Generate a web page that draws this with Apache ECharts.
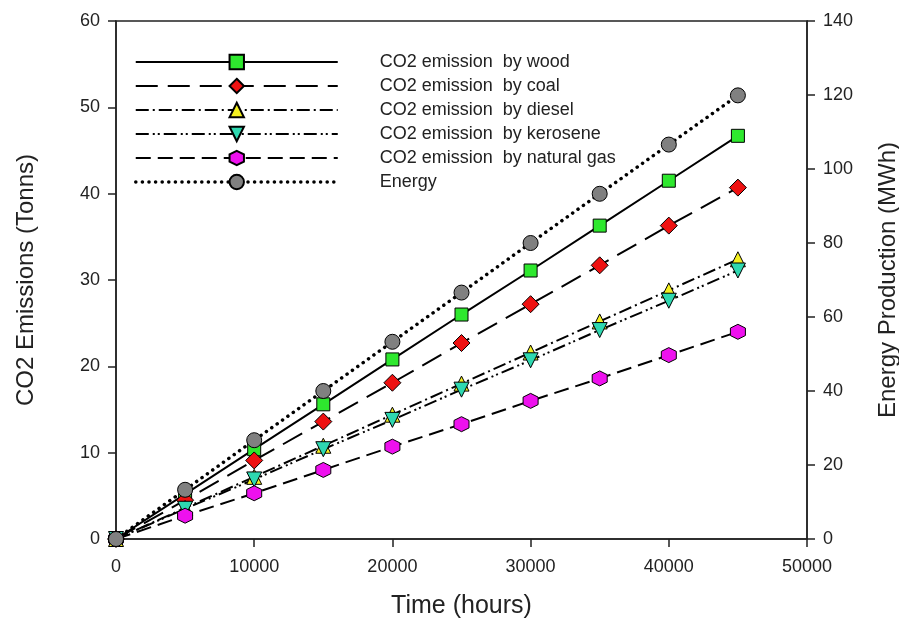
<!DOCTYPE html>
<html>
<head>
<meta charset="utf-8">
<script src="https://cdn.jsdelivr.net/npm/echarts@6/dist/echarts.min.js"></script>
<style>html,body{margin:0;padding:0;background:#fff}#c{width:899px;height:621px}</style>
</head>
<body>
<div id="c"></div>
<script>
const hours = [0, 5000, 10000, 15000, 20000, 25000, 30000, 35000, 40000, 45000];
const wood = [0, 5.2, 10.4, 15.6, 20.8, 26.0, 31.1, 36.3, 41.5, 46.7];
const coal = [0, 4.5, 9.1, 13.6, 18.1, 22.7, 27.2, 31.7, 36.3, 40.7];
const diesel = [0, 3.6, 7.2, 10.8, 14.4, 18.0, 21.6, 25.2, 28.8, 32.4];
const kerosene = [0, 3.5, 6.9, 10.4, 13.8, 17.3, 20.7, 24.2, 27.6, 31.1];
const naturalGas = [0, 2.7, 5.3, 8.0, 10.7, 13.3, 16.0, 18.6, 21.3, 24.0];
const energy = [0, 13.3, 26.7, 40.0, 53.3, 66.6, 80.0, 93.3, 106.6, 119.9];
const seriesNames = ['CO2 emission  by wood', 'CO2 emission  by coal', 'CO2 emission  by diesel',
  'CO2 emission  by kerosene', 'CO2 emission  by natural gas', 'Energy'];

const pair = arr => hours.map((h, i) => [h, arr[i]]);
const hexagon = 'path://M0,-10 L8.66,-5 L8.66,5 L0,10 L-8.66,5 L-8.66,-5 Z';
const font = 'Liberation Sans, Arial, sans-serif';
const dotted = [0.1, 6.5];

function mk(name, arr, symbol, color, dash, extra) {
  return Object.assign({
    name: name, type: 'line', data: pair(arr), symbol: symbol, symbolSize: 14,
    showAllSymbol: true,
    lineStyle: { color: '#000', width: 2, type: dash },
    itemStyle: { color: color, borderColor: '#000', borderWidth: 1 },
    emphasis: { disabled: true }, animation: false
  }, extra || {});
}

const chart = echarts.init(document.getElementById('c'));
chart.setOption({
  backgroundColor: '#fff',
  animation: false,
  textStyle: { fontFamily: font },
  grid: { left: 116, right: 92, top: 21, bottom: 82, outerBoundsMode: 'none', containLabel: false,
    show: true, borderColor: '#222', borderWidth: 1.5, backgroundColor: 'transparent' },
  legend: {
    orient: 'vertical', left: 129, top: 48, itemWidth: 202, itemHeight: 18, itemGap: 6,
    data: seriesNames.slice(0, 5).map(n => ({ name: n })).concat([{
      name: seriesNames[5], lineStyle: { width: 3.5, type: dotted, cap: 'round', color: '#000' }
    }]),
    lineStyle: { width: 2 },
    textStyle: { fontSize: 18, color: '#222', fontFamily: font, padding: [0, 0, 0, 37] },
    selectedMode: false
  },
  xAxis: {
    type: 'value', min: 0, max: 50000, interval: 10000,
    name: 'Time (hours)', nameLocation: 'middle', nameGap: 55,
    nameTextStyle: { fontSize: 25, color: '#222' },
    axisLine: { lineStyle: { color: '#222', width: 1.5 } },
    axisTick: { length: 8, lineStyle: { color: '#222', width: 1.5 } },
    axisLabel: { fontSize: 18, color: '#222', margin: 19, formatter: v => String(v) },
    splitLine: { show: false }
  },
  yAxis: [{
    type: 'value', min: 0, max: 60, interval: 10, position: 'left',
    name: 'CO2 Emissions (Tonns)', nameLocation: 'middle', nameGap: 78,
    nameTextStyle: { fontSize: 24, color: '#222' },
    axisLine: { show: true, lineStyle: { color: '#222', width: 1.5 } },
    axisTick: { show: true, length: 8, lineStyle: { color: '#222', width: 1.5 } },
    axisLabel: { fontSize: 18, color: '#222', margin: 16 },
    splitLine: { show: false }
  }, {
    type: 'value', min: 0, max: 140, interval: 20, position: 'right',
    name: 'Energy Production (MWh)', nameLocation: 'middle', nameGap: 69, nameRotate: 90,
    nameTextStyle: { fontSize: 24, color: '#222' },
    axisLine: { show: true, lineStyle: { color: '#222', width: 1.5 } },
    axisTick: { show: true, length: 8, lineStyle: { color: '#222', width: 1.5 } },
    axisLabel: { fontSize: 18, color: '#222', margin: 16 },
    splitLine: { show: false }
  }],
  series: [
    mk(seriesNames[0], wood, 'rect', '#2ee82e', 'solid', { symbolSize: 13 }),
    mk(seriesNames[1], coal, 'diamond', '#ee1111', [22, 10], { symbolSize: 17 }),
    mk(seriesNames[2], diesel, 'triangle', '#f4f020', [13, 4, 2, 4], { symbolSize: 15 }),
    mk(seriesNames[3], kerosene, 'triangle', '#2ed8b0', [13, 4, 2, 3, 2, 4], { symbolSize: 15, symbolRotate: 180 }),
    mk(seriesNames[4], naturalGas, hexagon, '#ee11ee', [15, 7], { symbolSize: 15 }),
    mk(seriesNames[5], energy, 'circle', '#808080', dotted, {
      yAxisIndex: 1, symbolSize: 15,
      lineStyle: { color: '#000', width: 3.5, type: dotted, cap: 'round' }
    })
  ]
});
</script>
</body>
</html>
